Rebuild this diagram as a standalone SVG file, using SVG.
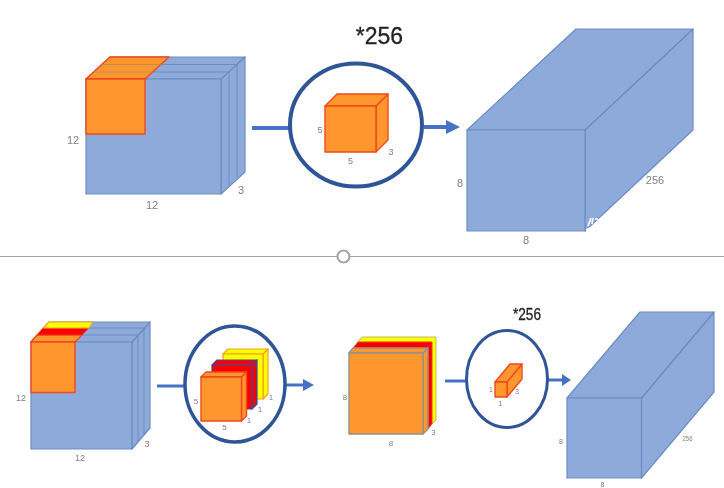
<svg xmlns="http://www.w3.org/2000/svg" width="724" height="488" viewBox="0 0 724 488">
<style>
text{font-family:"Liberation Sans",Arial,sans-serif;fill:#808080;text-anchor:middle}
.b{fill:#8eaadb;stroke:#6c8dc0;stroke-width:1.2;stroke-linejoin:round}
.bl{fill:none;stroke:#6c8dc0;stroke-width:1}
.o{fill:#ff962e;stroke:#f0481c;stroke-width:1.4;stroke-linejoin:round}
.og{fill:#ff962e;stroke:#93908a;stroke-width:1.4;stroke-linejoin:round}
.r{fill:#fb0000;stroke:#3e4a9e;stroke-width:1.2;stroke-linejoin:round}
.rf{fill:#fb0000;stroke:#f0481c;stroke-width:.8}
.y{fill:#ffff00;stroke:#f0a01c;stroke-width:1.2;stroke-linejoin:round}
.yg{fill:#ffff00;stroke:#a8a860;stroke-width:.8}
.c{fill:#fff;stroke:#2f5597}
.a{fill:none;stroke:#4472c4}
.h{fill:#4472c4}
.s11{font-size:11px}.s9{font-size:9px}.s8{font-size:8px}.s7{font-size:7px}
.k{fill:#222;stroke:#222;stroke-width:.3}
</style>
<defs><filter id="soft" x="0" y="0" width="100%" height="100%"><feGaussianBlur stdDeviation="0.5"/></filter></defs>
<rect width="724" height="488" fill="#fff"/>
<g filter="url(#soft)">
<g id="connectors">
<path class="a" stroke-width="4" d="M252 128H290"/>
<path class="a" stroke-width="4" d="M424 127H448"/>
<path class="h" d="M446 120L460 127L446 134Z"/>
<path class="a" stroke-width="3" d="M157 386H185"/>
<path class="a" stroke-width="3" d="M286 385H304"/>
<path class="h" d="M303 379L314 385L303 391Z"/>
<path class="a" stroke-width="3" d="M445 381H468"/>
<path class="a" stroke-width="3" d="M547 380H563"/>
<path class="h" d="M562 374L571 380L562 386Z"/>
</g>
<g id="separator">
<path d="M0 256.500H724" stroke="#a6a6a6" stroke-width="1.200" fill="none"/>
<circle cx="343.500" cy="256.500" r="6" fill="#fff" stroke="#a6a6a6" stroke-width="2.200"/>
</g>
<g id="input-volume-top">
<path class="b" d="M221 79L245 57V172L221 194Z"/>
<path class="b" d="M86 79L110 57H245L221 79Z"/>
<path class="bl" d="M229 72V186M237 64.500V179M94 72H229M102 64.500H237"/>
<path class="b" d="M86 79H221V194H86Z"/>
<path class="o" d="M86 79L110 57H169L145 79Z"/>
<path d="M94 72H153M102 64.500H161" fill="none" stroke="#b9925a" stroke-width="1"/>
<path class="o" d="M86 79H145V134H86Z"/>
<text class="s11" x="73" y="143.500">12</text>
<text class="s11" x="152" y="208.500">12</text>
<text class="s11" x="241" y="193.500">3</text>
</g>
<g id="filter-circle-top">
<ellipse class="c" stroke-width="4" cx="356" cy="125" rx="66" ry="61.500"/>
<path class="o" d="M376 106L388 94V140L376 152Z"/>
<path class="o" d="M325 106L337 94H388L376 106Z"/>
<path class="o" d="M325 106H376V152H325Z"/>
<text class="s9" x="320" y="133">5</text>
<text class="s9" x="350.500" y="163.500">5</text>
<text class="s9" x="391" y="154.500">3</text>
</g>
<text id="repeat-top" class="k" x="379.500" y="44" font-size="23">*256</text>
<g id="output-volume-top">
<path class="b" d="M585 130L693 29V130L585 231Z"/>
<path class="b" d="M467 130L576 29H693L585 130Z"/>
<path class="b" d="M467 130H585V231H467Z"/>
<path d="M588 226L591 218M593 218L592 224M595 219H598M586 230L590 228" stroke="#fff" stroke-width="1.600" fill="none"/>
<text class="s11" x="460" y="187">8</text>
<text class="s11" x="526" y="244">8</text>
<text class="s11" x="655" y="184">256</text>
</g>
<g id="input-volume-bottom">
<path class="b" d="M132 342L150 322V428L132 449Z"/>
<path class="b" d="M31 342L49 322H150L132 342Z"/>
<path class="bl" d="M138 335V442M144 328V435M37 335H138M43 328H144"/>
<path class="b" d="M31 342H132V449H31Z"/>
<path class="o" d="M31 342L37 335H82L75 342Z"/>
<path class="rf" d="M37 335L43 328H89L82 335Z"/>
<path class="y" d="M43 328L49 322H93L89 328Z"/>
<path class="o" d="M31 342H75V392.500H31Z"/>
<text class="s9" x="21" y="400.500">12</text>
<text class="s9" x="80" y="460.500">12</text>
<text class="s9" x="147" y="446.500">3</text>
</g>
<g id="filter-circle-bottom">
<ellipse class="c" stroke-width="3.500" cx="235" cy="384" rx="50" ry="58"/>
<path class="y" d="M263 354L268 349V394L263 399Z"/>
<path class="y" d="M223 354L228 349H268L263 354Z"/>
<path class="y" d="M223 354H263V399H223Z"/>
<path class="r" d="M252 365L257 360V404L252 409Z"/>
<path class="r" d="M212 365L217 360H257L252 365Z"/>
<path class="r" d="M212 365H252V409H212Z"/>
<path class="o" d="M241.500 377L246.500 372V416L241.500 421Z"/>
<path class="o" d="M201 377L206 372H246.500L241.500 377Z"/>
<path class="o" d="M201 377H241.500V421H201Z"/>
<text class="s8" x="196" y="404">5</text>
<text class="s8" x="224.500" y="430">5</text>
<text class="s8" x="249" y="423">1</text>
<text class="s8" x="260" y="412">1</text>
<text class="s8" x="271" y="400">1</text>
</g>
<g id="feature-stack">
<path class="yg" d="M362 337H436V420L432 424V342H358Z"/>
<path class="rf" d="M358 342H432V424L428 429V348H353Z"/>
<path class="og" d="M423 353L428 348V429L423 434Z"/>
<path class="og" d="M349 353L353 348H428L423 353Z"/>
<path class="og" d="M349 353H423V434H349Z"/>
<text class="s8" x="345" y="399.500">8</text>
<text class="s8" x="391" y="446">8</text>
<text class="s8" x="433.500" y="435">3</text>
</g>
<g id="filter-circle-third">
<ellipse class="c" stroke-width="3" cx="507" cy="379" rx="40.500" ry="48.500"/>
<path class="o" d="M507 382L522 364V379L507 397Z"/>
<path class="o" d="M495 382L510 364H522L507 382Z"/>
<path class="o" d="M495 382H507V397H495Z"/>
<text class="s7" x="491" y="391.500">1</text>
<text class="s7" x="500.500" y="405.500">1</text>
<text class="s7" x="517" y="393.500">3</text>
</g>
<text id="repeat-bottom" class="k" x="527" y="320" font-size="16" textLength="28" lengthAdjust="spacingAndGlyphs">*256</text>
<g id="output-volume-bottom">
<path class="b" d="M641.500 398L714 312V392L641.500 478Z"/>
<path class="b" d="M567 398L640 312H714L641.500 398Z"/>
<path class="b" d="M567 398H641.500V478H567Z"/>
<text class="s7" x="561" y="443.500">8</text>
<text class="s7" x="602.500" y="487">8</text>
<text class="s7" x="687.500" y="440.500" textLength="10" lengthAdjust="spacingAndGlyphs">256</text>
</g>
</g>
</svg>
